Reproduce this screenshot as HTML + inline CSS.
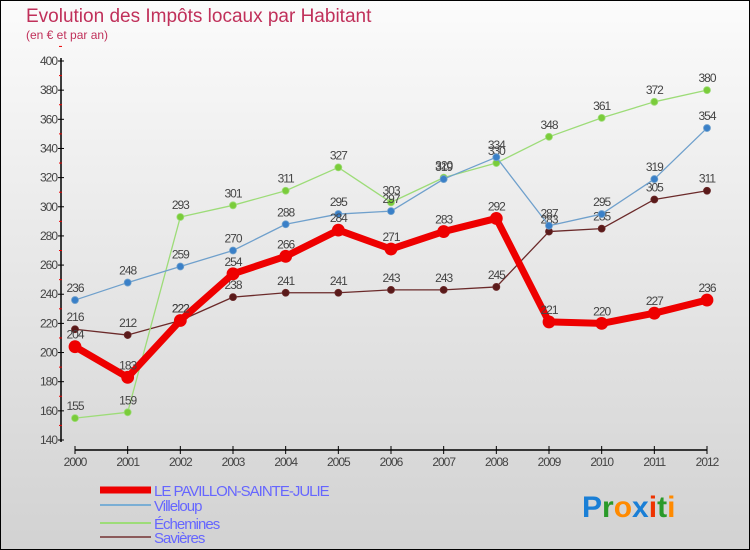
<!DOCTYPE html>
<html><head><meta charset="utf-8"><style>
body{margin:0}
#c{width:750px;height:550px;position:relative;font-family:"Liberation Sans",sans-serif;background:linear-gradient(#fbfbfb,#d2d2d2);border:1px solid #000;box-sizing:border-box;overflow:hidden}
</style></head><body>
<div id="c">
<svg id="s" width="750" height="550" style="position:absolute;left:-1px;top:-1px">
<text x="26" y="22" font-size="19" fill="#c0305a">Evolution des Impôts locaux par Habitant</text>
<text x="26" y="39" font-size="12" fill="#c0305a">(en € et par an)</text>
</svg>
</div>
<script>
const years=["2000","2001","2002","2003","2004","2005","2006","2007","2008","2009","2010","2011","2012"];
const pavillon=[204,183,222,254,266,284,271,283,292,221,220,227,236];
const villeloup=[236,248,259,270,288,295,297,319,334,287,295,319,354];
const echemines=[155,159,293,301,311,327,303,320,330,348,361,372,380];
const savieres=[216,212,222,238,241,241,243,243,245,283,285,305,311];
const yTicks=[140,160,180,200,220,240,260,280,300,320,340,360,380,400];
const NS="http://www.w3.org/2000/svg",s=document.getElementById('s');
const X=i=>75+i*(632/12), Y=v=>440-(v-140)*(379/260);
function el(t,a,p){const e=document.createElementNS(NS,t);for(const k in a)e.setAttribute(k,a[k]);(p||s).appendChild(e);return e;}
let g=el('g',{});


el('line',{x1:61,y1:58,x2:61,y2:442,stroke:'#000','stroke-width':1.5},g);
yTicks.forEach(v=>{el('line',{x1:58,x2:64,y1:Y(v),y2:Y(v),stroke:'#000'},g);
el('line',{x1:59,x2:62,y1:Y(v+10),y2:Y(v+10),stroke:'#e00'},g);
const t=el('text',{x:57,y:Y(v)+4,'text-anchor':'end','font-size':12,fill:'#444','letter-spacing':'-1'},g);t.textContent=v;});
g=el('g',{});


el('line',{x1:75,y1:450,x2:707,y2:450,stroke:'#000','stroke-width':1.5},g);
years.forEach((y,i)=>{el('line',{x1:X(i),x2:X(i),y1:446,y2:454,stroke:'#000'},g);
const t=el('text',{x:X(i),y:466,'text-anchor':'middle','font-size':12,fill:'#444','letter-spacing':'-1'},g);t.textContent=y;});
function series(d,name,col,dot,w,r){const gg=el('g',{});


el('polyline',{points:d.map((v,i)=>X(i)+','+Y(v)).join(' '),fill:'none',stroke:col,'stroke-width':w,'stroke-linejoin':'round'},gg);
d.forEach((v,i)=>{el('circle',{cx:X(i),cy:Y(v),r:r,fill:dot,stroke:col,'stroke-width':0.8},gg);
const t=el('text',{x:X(i),y:Y(v)-8,'text-anchor':'middle','font-size':12,fill:'#444','letter-spacing':'-1'},gg);t.textContent=v;});}
series(savieres,'series-savieres','#6b2a2a','#5a1a1a',1.3,3.5);
series(echemines,'series-echemines','#9ddc78','#7acc3a',1.3,3.5);
series(villeloup,'series-villeloup','#6fa0cc','#3a80c8',1.3,3.5);
series(pavillon,'series-pavillon','#ee0000','#ee0000',7,6);
const leg=[['LE PAVILLON-SAINTE-JULIE','#ee0000',7],['Villeloup','#7aaed4',2],['Échemines','#9ddc78',2],['Savières','#8b5a5a',2]];
leg.forEach((l,i)=>{const gg=el('g',{});


const yy=[493,508,526,540][i];
el('line',{x1:100,x2:151,y1:yy-3,y2:yy-3,stroke:l[1],'stroke-width':l[2]},gg);
const t=el('text',{x:154,y:yy+3,'font-size':15,fill:'#6666ff','letter-spacing':'-1'},gg);t.textContent=l[0];});
const p=el('text',{x:582,y:517,'font-size':30,'font-weight':'bold'});


[['P','#1a7fd6'],['r','#2a9a2a'],['o','#ff8a00'],['x','#1a7fd6'],['i','#ee3300'],['t','#2a9a2a'],['i','#ff8a00']].forEach(c=>{el('tspan',{fill:c[1]},p).textContent=c[0];});
</script>
</body></html>
